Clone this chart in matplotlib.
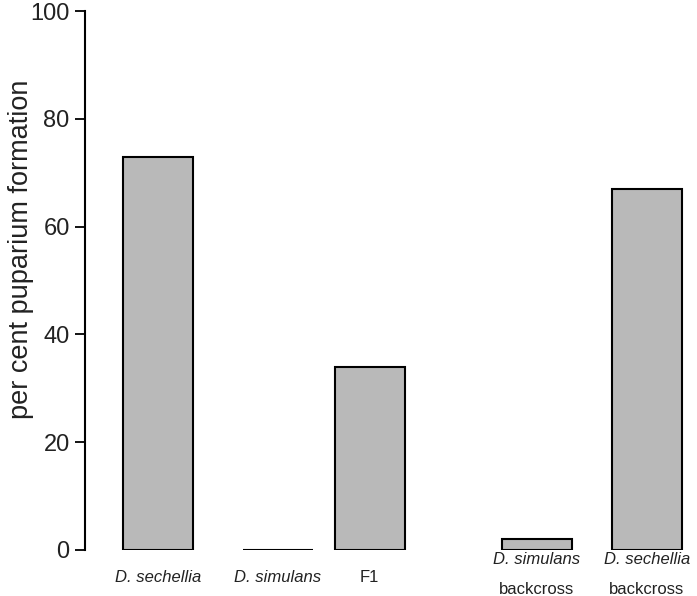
import matplotlib
matplotlib.use("Agg")
import matplotlib.pyplot as plt
from matplotlib.transforms import blended_transform_factory

plt.rcParams['font.family'] = ['Liberation Sans', 'DejaVu Sans']

species = ["D. sechellia", "D. simulans", "F1", "D. simulans", "D. sechellia"]
suffix = ["", "", "", "backcross", "backcross"]
italic = [True, True, False, True, True]
values = [73, 0, 34, 2.1, 67]
yticks = [0, 20, 40, 60, 80, 100]

# layout: bar centres (irregular spacing as in the reference)
xpos = [73, 192.5, 284.5, 452, 562]
width = 70

fig = plt.figure(figsize=(6.97, 5.96), dpi=100)
ax = fig.add_axes([85/697, 46/596, 605/697, 539/596])

ax.bar(xpos, values, width=width, color="#b9b9b9", edgecolor="black", linewidth=1.5)
ax.set_xlim(0, 605)
ax.set_ylim(0, 100)
ax.set_yticks(yticks)
ax.tick_params(axis='y', direction='out', length=7, width=1.3, labelsize=17, pad=4,
               labelcolor="#222222")
ax.set_xticks([])
for s in ["top", "right", "bottom"]:
    ax.spines[s].set_visible(False)
ax.spines["left"].set_linewidth(1.5)
fig.text(21/697, 1 - 249/596, "per cent puparium formation", fontsize=19.5,
         rotation=90, ha="center", va="center", color="#222222")

trans = blended_transform_factory(ax.transData, fig.transFigure)
fs = 12
for x, sp, sf, it in zip(xpos, species, suffix, italic):
    style = "italic" if it else "normal"
    if sf:
        ax.text(x, 1 - 560/596, sp, transform=trans, ha="center", va="center",
                fontsize=fs, style=style, clip_on=False, color="#222222")
        ax.text(x, 1 - 589/596, sf, transform=trans, ha="center", va="center",
                fontsize=fs, clip_on=False, color="#222222")
    else:
        ax.text(x, 1 - 577/596, sp, transform=trans, ha="center", va="center",
                fontsize=fs, style=style, clip_on=False, color="#222222")

fig.savefig("out.png", dpi=100)
